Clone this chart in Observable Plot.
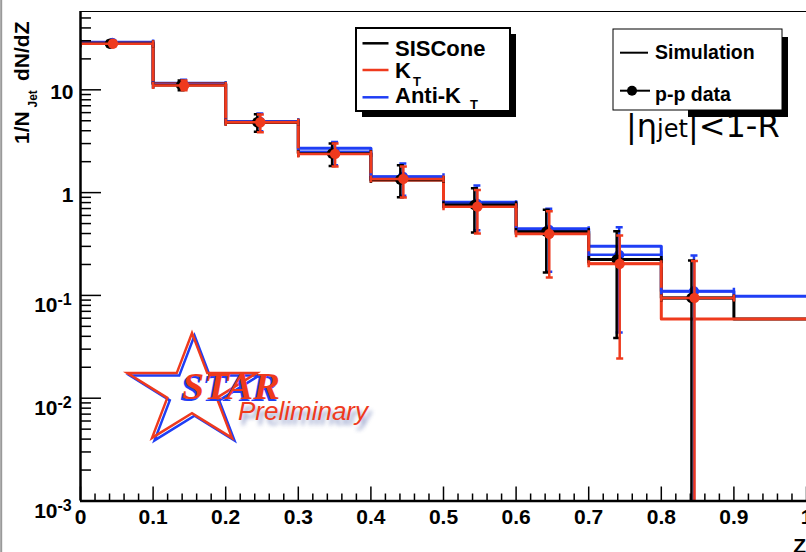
<!DOCTYPE html>
<html><head><meta charset="utf-8">
<script src="https://cdn.jsdelivr.net/npm/d3@7"></script>
<script src="https://cdn.jsdelivr.net/npm/@observablehq/plot@0.6"></script>
<style>
html,body{margin:0;padding:0;background:#fff;overflow:hidden;}
#chart{position:relative;width:806px;height:552px;overflow:hidden;}
</style></head><body><div id="chart"></div>
<script>
// ---- data ----
const binEdges = [0, 0.1, 0.2, 0.3, 0.4, 0.5, 0.6, 0.7, 0.8, 0.9, 1.0];
// simulation histograms (one value per bin)
const simSISCone = [28.4, 11.4, 4.84, 2.41, 1.33, 0.777, 0.418, 0.224, 0.0946, 0.059];
const simKT      = [28.4, 11.4, 4.84, 2.41, 1.33, 0.736, 0.397, 0.203, 0.059, 0.059];
const simAntiKT  = [29.0, 11.6, 4.92, 2.70, 1.43, 0.805, 0.444, 0.300, 0.110, 0.098];
// p-p data points
const dataZ = [0.044, 0.142, 0.247, 0.350, 0.444, 0.546, 0.645, 0.742, 0.845];
const dataSISCone   = [28.1, 11.1, 4.84, 2.40, 1.34, 0.76, 0.418, 0.224, 0.0946];
const dataSISConeLo = [26.5, 9.9, 3.90, 1.82, 0.90, 0.41, 0.167, 0.0385, 0.0001];
const dataSISConeHi = [29.8, 12.3, 5.80, 3.00, 1.85, 1.10, 0.680, 0.420, 0.218];
const dataKT   = [28.1, 11.0, 4.84, 2.38, 1.36, 0.73, 0.397, 0.203, 0.0946];
const dataKTLo = [26.5, 9.9, 3.87, 1.80, 0.895, 0.40, 0.149, 0.0243, 0.0001];
const dataKTHi = [29.8, 12.3, 5.75, 3.00, 1.80, 1.06, 0.660, 0.382, 0.216];
const dataAntiKT   = [28.6, 11.2, 4.90, 2.50, 1.43, 0.78, 0.436, 0.248, 0.1096];
const dataAntiKTLo = [27.0, 10.0, 3.95, 1.85, 0.93, 0.43, 0.170, 0.0436, 0.0001];
const dataAntiKTHi = [30.3, 12.5, 5.90, 3.10, 1.92, 1.17, 0.695, 0.460, 0.244];
// axes
const yTickValues = [0.001, 0.01, 0.1, 1, 10];
const yTickBase = ["10", "10", "10", "1", "10"];
const yTickExp = ["-3", "-2", "-1", "", ""];
const xTickValues = [0, 0.1, 0.2, 0.3, 0.4, 0.5, 0.6, 0.7, 0.8, 0.9, 1.0];
const xTickLabels = ["0", "0.1", "0.2", "0.3", "0.4", "0.5", "0.6", "0.7", "0.8", "0.9", "1"];
const yMax = 57.8;

const RED = "#ef3a1d", BLUE = "#1f3ef5", BLACK = "#000";
const FONT = "Liberation Sans, Arial, Helvetica, sans-serif";

// derived tables
const histTable = vals => binEdges.map((e, i) => ({z: e, v: vals[Math.min(i, vals.length - 1)]}));
const dataTable = (v, lo, hi) => dataZ.map((z, i) => ({z, v: v[i], lo: lo[i], hi: hi[i], x1: binEdges[i], x2: binEdges[i + 1]}));
const yMinor = [];
for (const d of [0.001, 0.01, 0.1, 1, 10]) for (let k = 2; k <= 9; k++) if (d * k <= yMax) yMinor.push(d * k);
const xMinor = d3.range(0, 51).map(i => i / 50).filter(v => Math.round(v * 50) % 5 !== 0);

const hCap = {draw(ctx, size) { const r = Math.sqrt(size / Math.PI); ctx.moveTo(-r, 0); ctx.lineTo(r, 0); }};
const vCap = {draw(ctx, size) { const r = Math.sqrt(size / Math.PI); ctx.moveTo(0, -r); ctx.lineTo(0, r); }};

function histMarks(vals, color) {
  return Plot.line(histTable(vals), {x: "z", y: "v", curve: "step-after", stroke: color, strokeWidth: 3, clip: true});
}
function dataMarks(v, lo, hi, color, dx) {
  const t = dataTable(v, lo, hi);
  return [
    Plot.ruleY(t, {y: "v", x1: "x1", x2: "x2", stroke: color, strokeWidth: 2.5, clip: true}),
    Plot.dot(t, {x: "x1", y: "v", symbol: vCap, r: 3.5, stroke: color, fill: "none", strokeWidth: 2.5, clip: true}),
    Plot.dot(t, {x: "x2", y: "v", symbol: vCap, r: 3.5, stroke: color, fill: "none", strokeWidth: 2.5, clip: true}),
    Plot.ruleX(t, {x: "z", y1: "lo", y2: "hi", stroke: color, strokeWidth: 2.5, dx, clip: true}),
    Plot.dot(t, {x: "z", y: "hi", symbol: hCap, r: 3.5, stroke: color, fill: "none", strokeWidth: 2.5, dx, clip: true}),
    Plot.dot(t.filter(d => d.lo >= 0.001), {x: "z", y: "lo", symbol: hCap, r: 3.5, stroke: color, fill: "none", strokeWidth: 2.5, dx, clip: true}),
    Plot.dot(t, {x: "z", y: "v", r: 5.2, fill: color, dx, clip: true})
  ];
}

const yLab = yTickValues.map((v, i) => ({v, base: yTickBase[i], exp: yTickExp[i]}));
const xLab = xTickValues.map((v, i) => ({v, t: xTickLabels[i]}));

const plot = Plot.plot({
  width: 806, height: 552,
  marginLeft: 80, marginRight: 0, marginTop: 11, marginBottom: 51.5,
  style: {background: "white", fontFamily: FONT, overflow: "visible"},
  x: {domain: [0, 1], axis: null},
  y: {type: "log", domain: [0.001, yMax], axis: null},
  marks: [
    Plot.frame({stroke: "black", strokeWidth: 1}),
    histMarks(simAntiKT, BLUE),
    histMarks(simSISCone, BLACK),
    histMarks(simKT, RED),
    ...dataMarks(dataAntiKT, dataAntiKTLo, dataAntiKTHi, BLUE, 0),
    ...dataMarks(dataSISCone, dataSISConeLo, dataSISConeHi, BLACK, -2.5),
    ...dataMarks(dataKT, dataKTLo, dataKTHi, RED, 0.5),
    // ticks (inside the frame, ROOT style)
    Plot.tickY(yTickValues, {y: d => d, stroke: "black", strokeWidth: 1.5, insetRight: 705}),
    Plot.tickY(yMinor, {y: d => d, stroke: "black", strokeWidth: 1.5, insetRight: 715}),
    Plot.tickX(xTickValues, {x: d => d, stroke: "black", strokeWidth: 1.5, insetTop: 475.5}),
    Plot.tickX(xMinor, {x: d => d, stroke: "black", strokeWidth: 1.5, insetTop: 482.5}),
    Plot.ruleX([0], {stroke: "black", strokeWidth: 2.5}),
    Plot.ruleY([0.001], {stroke: "black", strokeWidth: 2.5}),
    // tick labels
    Plot.text(yLab.filter(d => !d.exp), {y: "v", text: "base", frameAnchor: "left", dx: -7, dy: 9, lineAnchor: "bottom", textAnchor: "end", fontSize: 21, fontWeight: "bold", fill: "black"}),
    Plot.text(yLab.filter(d => d.exp), {y: "v", text: "base", frameAnchor: "left", dx: -23, dy: 17, lineAnchor: "bottom", textAnchor: "end", fontSize: 21, fontWeight: "bold", fill: "black"}),
    Plot.text(yLab.filter(d => d.exp), {y: "v", text: "exp", frameAnchor: "left", dx: -23, dy: 9.5, lineAnchor: "bottom", textAnchor: "start", fontSize: 16, fontWeight: "bold", fill: "black"}),
    Plot.text(xLab, {x: "v", text: "t", frameAnchor: "bottom", dy: 22.5, lineAnchor: "bottom", textAnchor: "middle", fontSize: 21, fontWeight: "bold", fill: "black"})
  ]
});
document.getElementById("chart").appendChild(plot);

// ---- annotations ----
const svg = d3.select(plot);
svg.append("line").attr("x1", 1.2).attr("x2", 1.2).attr("y1", 0).attr("y2", 552).attr("stroke", "#999").attr("stroke-width", 2);

// axis titles
const at = svg.append("g").attr("font-family", FONT).attr("font-weight", "bold").attr("fill", "black").attr("text-anchor", "start");
at.append("text").attr("transform", "translate(28.5,144) rotate(-90)").attr("font-size", 21).text("1/N");
at.append("text").attr("transform", "translate(37,107.5) rotate(-90)").attr("font-size", 12).text("Jet");
at.append("text").attr("transform", "translate(28.5,81) rotate(-90)").attr("font-size", 21).text("dN/dZ");
at.append("text").attr("x", 806).attr("y", 553).attr("text-anchor", "end").attr("font-size", 21).text("Z");

// legend 1
const l1 = svg.append("g").attr("font-family", FONT).attr("font-weight", "bold").attr("text-anchor", "start").attr("fill", "black");
l1.append("rect").attr("x", 362).attr("y", 34).attr("width", 154).attr("height", 83).attr("fill", "black");
l1.append("rect").attr("x", 356).attr("y", 28).attr("width", 154).attr("height", 83).attr("fill", "white").attr("stroke", "black").attr("stroke-width", 2);
[[43.3, BLACK], [70, RED], [97.3, BLUE]].forEach(([y, c]) =>
  l1.append("line").attr("x1", 362.5).attr("x2", 388.5).attr("y1", y).attr("y2", y).attr("stroke", c).attr("stroke-width", 2.5));
l1.append("text").attr("x", 395).attr("y", 56).attr("font-size", 22).text("SISCone");
l1.append("text").attr("x", 395).attr("y", 77.7).attr("font-size", 22).text("K");
l1.append("text").attr("x", 413).attr("y", 86).attr("font-size", 13).text("T");
l1.append("text").attr("x", 395).attr("y", 103.3).attr("font-size", 22).text("Anti-K");
l1.append("text").attr("x", 470).attr("y", 109).attr("font-size", 13).text("T");

// legend 2
const l2 = svg.append("g").attr("font-family", FONT).attr("font-weight", "bold").attr("text-anchor", "start").attr("fill", "black");
l2.append("rect").attr("x", 782).attr("y", 37).attr("width", 6).attr("height", 80).attr("fill", "black");
l2.append("rect").attr("x", 688).attr("y", 110).attr("width", 100).attr("height", 7).attr("fill", "black");
l2.append("rect").attr("x", 613).attr("y", 29).attr("width", 169).attr("height", 81).attr("fill", "white").attr("stroke", "black").attr("stroke-width", 1);
l2.append("line").attr("x1", 620).attr("x2", 648).attr("y1", 52.7).attr("y2", 52.7).attr("stroke", "black").attr("stroke-width", 2);
l2.append("text").attr("x", 655).attr("y", 59).attr("font-size", 19.5).text("Simulation");
l2.append("line").attr("x1", 620).attr("x2", 650).attr("y1", 90.7).attr("y2", 90.7).attr("stroke", "black").attr("stroke-width", 2);
l2.append("circle").attr("cx", 632).attr("cy", 90.7).attr("r", 5).attr("fill", "black");
l2.append("text").attr("x", 655).attr("y", 100.5).attr("font-size", 19.5).text("p-p data");

// eta cut
const et = svg.append("text").attr("x", 626).attr("y", 137).attr("text-anchor", "start").attr("font-family", "DejaVu Sans").attr("font-size", 32).attr("fill", "black");
et.append("tspan").text("|η");
et.append("tspan").attr("font-size", 24).attr("dy", 0).text("jet");
et.append("tspan").text("|<1-R");

// STAR Preliminary logo
function starPts(cx, cy, rx, ry, k) {
  const pts = [];
  for (let i = 0; i < 10; i++) {
    const a = (-90 + 36 * i) * Math.PI / 180, f = i % 2 ? k : 1;
    pts.push([cx + rx * f * Math.cos(a), cy + ry * f * Math.sin(a)]);
  }
  return pts.map(p => p.join(",")).join(" ");
}
const defs = svg.append("defs");
defs.append("filter").attr("id", "blur").append("feGaussianBlur").attr("stdDeviation", 2);
const logo = svg.append("g").attr("text-anchor", "start");
logo.append("polygon").attr("points", starPts(194.5, 393.5, 68, 58, 0.382)).attr("fill", "none").attr("stroke", BLUE).attr("stroke-width", 2.5);
logo.append("polygon").attr("points", starPts(192, 391, 68, 58, 0.382)).attr("fill", "none").attr("stroke", RED).attr("stroke-width", 2.5);
const starFont = "Liberation Serif, Times New Roman, serif";
logo.append("text").attr("x", 180).attr("y", 401).attr("font-family", starFont).attr("font-style", "italic").attr("font-weight", "bold").attr("font-size", 37).attr("textLength", 98).attr("lengthAdjust", "spacingAndGlyphs").attr("fill", BLUE).text("STAR");
logo.append("text").attr("x", 182).attr("y", 399).attr("font-family", starFont).attr("font-style", "italic").attr("font-weight", "bold").attr("font-size", 37).attr("textLength", 98).attr("lengthAdjust", "spacingAndGlyphs").attr("fill", RED).text("STAR");
logo.append("text").attr("x", 241).attr("y", 425).attr("font-family", FONT).attr("font-style", "italic").attr("font-size", 26).attr("textLength", 130).attr("fill", "#6f7fb8").attr("opacity", 0.8).attr("filter", "url(#blur)").text("Preliminary");
logo.append("text").attr("x", 238).attr("y", 420).attr("font-family", FONT).attr("font-style", "italic").attr("font-size", 26).attr("textLength", 130).attr("fill", RED).text("Preliminary");
</script></body></html>
